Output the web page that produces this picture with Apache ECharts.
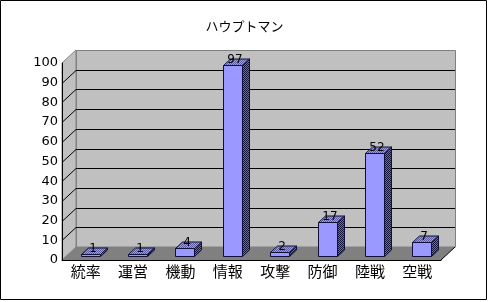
<!DOCTYPE html>
<html>
<head>
<meta charset="utf-8">
<script src="https://cdn.jsdelivr.net/npm/echarts@6/dist/echarts.min.js"></script>
<style>
html,body{margin:0;padding:0;background:#fff;}
#c{width:489px;height:302px;}
</style>
</head>
<body>
<div id="c"></div>
<script>
// ---- data ----
const titleText = 'ハウプトマン';
const categories = ['統率', '運営', '機動', '情報', '攻撃', '防御', '陸戦', '空戦'];
const values = [1, 1, 4, 97, 2, 17, 52, 7];
const gridValues = [10, 20, 30, 40, 50, 60, 70, 80, 90];

// ---- style / geometry constants ----
const DX = 14, DY = -13;          // depth vector of the 3D box
const BAR_FRONT = 0.32;           // bar front plane (fraction of depth)
const BAR_DEPTH = 0.5;            // bar depth (fraction of depth)
const BAR_W = 0.4;                // bar width (fraction of category band)

function makePattern(c1, c2) {
  const cv = document.createElement('canvas');
  cv.width = 2; cv.height = 2;
  const ctx = cv.getContext('2d');
  ctx.fillStyle = c1; ctx.fillRect(0, 0, 2, 2);
  ctx.fillStyle = c2; ctx.fillRect(0, 0, 1, 1); ctx.fillRect(1, 1, 1, 1);
  return { type: 'pattern', image: cv, repeat: 'repeat' };
}
const sidePattern = makePattern('#6a6ab4', '#14143a');
const topPattern = makePattern('#9999ff', '#5a5aa0');

const chart = echarts.init(document.getElementById('c'), null, { renderer: 'canvas' });

const option = {
  animation: false,
  backgroundColor: '#ffffff',
  title: {
    text: titleText, left: 'center', top: 15,
    textStyle: { fontSize: 13, fontWeight: 'normal', color: '#000', fontFamily: 'Noto Sans CJK JP' }
  },
  graphic: [{
    type: 'rect', shape: { x: 0.5, y: 0.5, width: 486, height: 299 },
    style: { fill: 'none', stroke: '#000', lineWidth: 1 }, z: 100
  }],
  grid: { left: 62, top: 63, width: 379, height: 197 },
  xAxis: {
    type: 'category', data: categories, z: 10,
    axisLine: { lineStyle: { color: '#000', width: 1 } },
    axisTick: { inside: true, length: 4, lineStyle: { color: '#000' } },
    axisLabel: { color: '#000', fontSize: 15, fontFamily: 'Noto Sans CJK JP', margin: 4 }
  },
  yAxis: {
    type: 'value', min: 0, max: 100, interval: 10, z: 10,
    axisLine: { show: true, lineStyle: { color: '#000', width: 1 } },
    axisTick: { show: false },
    splitLine: { show: false },
    axisLabel: { color: '#000', fontSize: 13, fontFamily: 'DejaVu Sans', margin: 4 }
  },
  series: [
    {
      type: 'custom', z: 1, silent: true,
      data: [[0, 0]],
      encode: { x: 0, y: 1 },
      renderItem: function (params, api) {
        const cs = params.coordSys;
        const x0 = cs.x, x1 = cs.x + cs.width, yt = cs.y, yb = cs.y + cs.height;
        return {
          type: 'group',
          children: [
            { type: 'polygon', shape: { points: [[x0 + DX + 0.5, yt + DY + 0.5], [x1 + DX + 0.5, yt + DY + 0.5], [x1 + DX + 0.5, yb + DY], [x0 + DX + 0.5, yb + DY]] },
              style: { fill: '#c0c0c0', stroke: '#808080', lineWidth: 1 } },
            { type: 'polygon', shape: { points: [[x0, yt], [x0 + DX, yt + DY], [x0 + DX, yb + DY], [x0, yb]] },
              style: { fill: '#c0c0c0', stroke: '#808080', lineWidth: 1 } },
            { type: 'polygon', shape: { points: [[x0, yb], [x1, yb], [x1 + DX, yb + DY], [x0 + DX, yb + DY]] },
              style: { fill: '#808080' } },
            { type: 'line', shape: { x1: x1, y1: yb, x2: x1 + DX, y2: yb + DY },
              style: { stroke: '#000', lineWidth: 1 } }
          ]
        };
      }
    },
    {
      type: 'custom', z: 2, silent: true,
      data: gridValues.map(v => [0, v]),
      encode: { x: 0, y: 1 },
      renderItem: function (params, api) {
        const cs = params.coordSys;
        const x0 = cs.x, x1 = cs.x + cs.width;
        const y = Math.round(api.coord([0, api.value(1)])[1]) + 0.5;
        return {
          type: 'group',
          children: [
            { type: 'line', shape: { x1: x0 + DX, y1: y + DY, x2: x1 + DX, y2: y + DY }, style: { stroke: '#000', lineWidth: 1 } },
            { type: 'line', shape: { x1: x0, y1: y, x2: x0 + DX, y2: y + DY }, style: { stroke: '#000', lineWidth: 1 } }
          ]
        };
      }
    },
    {
      type: 'custom', z: 5, silent: true,
      data: values.map((v, i) => [i, v]),
      encode: { x: 0, y: 1 },
      renderItem: function (params, api) {
        const i = api.value(0), v = api.value(1);
        const top = api.coord([i, v]);
        const base = api.coord([i, 0]);
        const band = api.size([1, 0])[0];
        const w = band * BAR_W;
        const ox = DX * BAR_FRONT, oy = DY * BAR_FRONT;
        const sx = DX * BAR_DEPTH, sy = DY * BAR_DEPTH;
        const xl = Math.round(top[0] - w / 2 + ox) + 0.5;
        const xr = Math.round(top[0] + w / 2 + ox) + 0.5;
        const yt = Math.round(top[1] + oy) + 0.5;
        const yb = Math.round(base[1] + oy) + 0.5;
        const stroke = '#10103a';
        return {
          type: 'group',
          children: [
            { type: 'polygon', shape: { points: [[xr, yt], [xr + sx, yt + sy], [xr + sx, yb + sy], [xr, yb]] },
              style: { fill: sidePattern, stroke: stroke, lineWidth: 1 } },
            { type: 'polygon', shape: { points: [[xl, yt], [xr, yt], [xr + sx, yt + sy], [xl + sx, yt + sy]] },
              style: { fill: topPattern, stroke: stroke, lineWidth: 1 } },
            { type: 'rect', shape: { x: xl, y: yt, width: xr - xl, height: yb - yt },
              style: { fill: '#9999ff', stroke: stroke, lineWidth: 1 } },
            { type: 'text', x: (xl + xr) / 2 + 2, y: yt - 6,
              style: { text: String(v), fill: '#000', font: '12px "DejaVu Sans"', align: 'center', verticalAlign: 'middle' } }
          ]
        };
      }
    }
  ]
};
chart.setOption(option);
</script>
</body>
</html>
